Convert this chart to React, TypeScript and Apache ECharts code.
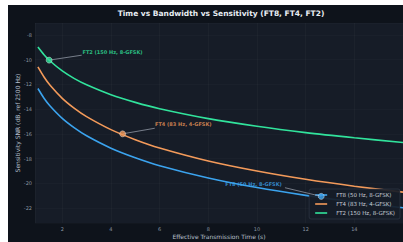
import React, { useEffect, useRef } from "react";
import * as echarts from "echarts";

const times = [1, 1.25, 1.5, 2, 2.5, 3, 4, 5, 6, 8, 10, 12, 14, 16];
const ft8Snr = [-12.34, -13.12, -13.75, -14.75, -15.52, -16.16, -17.16, -17.93, -18.57, -19.56, -20.34, -20.97, -21.51, -21.97];
const ft4Snr = [-10.6, -11.41, -12.08, -13.13, -13.94, -14.61, -15.66, -16.47, -17.14, -18.19, -19.0, -19.67, -20.23, -20.71];
const ft2Snr = [-8.99, -9.61, -10.12, -10.92, -11.54, -12.04, -12.84, -13.46, -13.97, -14.77, -15.39, -15.9, -16.32, -16.7];

const seriesNames = ["FT8 (50 Hz, 8-GFSK)", "FT4 (83 Hz, 4-GFSK)", "FT2 (150 Hz, 8-GFSK)"];
const seriesColors = ["#3ba3ee", "#f39a5a", "#31e39c"];
// operating points [time, snr]
const opTimes = [12.64, 4.48, 1.46];
const opSnr = [-21.05, -16.0, -10.05];
// annotation arrow ends [time, snr]
const arrowEndTimes = [11.15, 5.8, 2.8];
const arrowEndSnr = [-20.35, -15.55, -9.65];
const labelOffsets: [number, number][] = [[-36, -12], [29, -10], [30, -8]];
const labelPositions = ["left", "right", "right"];

const xMin = 0.88;
const xMax = 16;
const yMin = -23.2;
const yMax = -7.05;

const FONT = "DejaVu Sans";

export default function App() {
  const ref = useRef<HTMLDivElement>(null);
  useEffect(() => {
    if (!ref.current) return;
    const chart = echarts.init(ref.current, undefined, { renderer: "svg" });
    const curves = [ft8Snr, ft4Snr, ft2Snr];
    const lineSeries = curves.map((vals, i) => ({
      name: seriesNames[i],
      type: "line",
      data: times.map((t, j) => [t, vals[j]]),
      smooth: 0.3,
      showSymbol: false,
      lineStyle: { color: seriesColors[i], width: 1.6 },
      itemStyle: { color: seriesColors[i] },
      z: 3,
    }));
    const pointSeries = seriesNames.map((n, i) => ({
      name: n + " point",
      type: "scatter",
      data: [[opTimes[i], opSnr[i]]],
      symbolSize: 6,
      itemStyle: { color: seriesColors[i], borderColor: "rgba(255,255,255,0.6)", borderWidth: 0.8 },
      label: {
        show: true,
        position: labelPositions[i],
        distance: 0,
        offset: labelOffsets[i],
        formatter: n,
        color: seriesColors[i],
        fontSize: 5,
        fontWeight: "bold",
        fontFamily: FONT,
      },
      markLine: {
        silent: true,
        symbol: ["none", "none"],
        label: { show: false },
        lineStyle: { color: "#a0a8b4", width: 0.7, type: "solid" },
        data: [[{ coord: [opTimes[i], opSnr[i]] }, { coord: [arrowEndTimes[i], arrowEndSnr[i]] }]],
      },
      z: 5,
    }));

    chart.setOption({
      animation: false,
      backgroundColor: "#0e131b",
      graphic: [
        {
          type: "text",
          x: 213,
          y: 8,
          style: {
            text: "Time vs Bandwidth vs Sensitivity (FT8, FT4, FT2)",
            textAlign: "center",
            textVerticalAlign: "middle",
            fill: "#e8edf3",
            font: `bold 7.5px "${FONT}"`,
          },
        },
      ],
      grid: {
        left: 27,
        right: 0,
        top: 18,
        bottom: 19,
        containLabel: false,
        outerBoundsMode: "none",
        show: true,
        backgroundColor: "#161c27",
        borderWidth: 0,
      },
      legend: {
        data: seriesNames,
        orient: "vertical",
        right: 3,
        bottom: 23,
        icon: "rect",
        itemWidth: 12,
        itemHeight: 1.6,
        itemGap: 3,
        padding: [3, 5, 3, 6],
        backgroundColor: "rgba(22,28,39,0.92)",
        borderColor: "#3a4252",
        borderWidth: 0.5,
        borderRadius: 2,
        textStyle: { color: "#c6ccd6", fontSize: 5.5, fontFamily: FONT, padding: [0, 0, 0, 4] },
      },
      xAxis: {
        type: "value",
        min: xMin,
        max: xMax,
        splitNumber: 8,
        minInterval: 2,
        maxInterval: 2,
        name: "Effective Transmission Time (s)",
        nameLocation: "middle",
        nameGap: 10,
        nameMoveOverlap: false,
        nameTextStyle: { color: "#b8c0cc", fontSize: 6, fontFamily: FONT },
        axisLine: { show: false },
        axisTick: { show: false },
        axisLabel: {
          color: "#8a93a2",
          fontSize: 5,
          fontFamily: FONT,
          margin: 3,
          showMinLabel: false,
          showMaxLabel: false,
          formatter: (v: number) => (Math.abs(v % 2) < 1e-6 ? String(v) : ""),
        },
        splitLine: { show: true, lineStyle: { color: "rgba(255,255,255,0.05)", width: 0.6 } },
      },
      yAxis: {
        type: "value",
        min: yMin,
        max: yMax,
        splitNumber: 8,
        minInterval: 2,
        maxInterval: 2,
        name: "Sensitivity SNR (dB, ref 2500 Hz)",
        nameLocation: "middle",
        nameGap: 15,
        nameMoveOverlap: false,
        nameRotate: 90,
        nameTextStyle: { color: "#b8c0cc", fontSize: 6, fontFamily: FONT },
        axisLine: { show: false },
        axisTick: { show: false },
        axisLabel: {
          color: "#8a93a2",
          fontSize: 5,
          fontFamily: FONT,
          margin: 3,
          showMinLabel: false,
          showMaxLabel: false,
          formatter: (v: number) => (Math.abs(v % 2) < 1e-6 ? String(v) : ""),
        },
        splitLine: { show: true, lineStyle: { color: "rgba(255,255,255,0.04)", width: 0.6 } },
      },
      series: [...lineSeries, ...pointSeries],
    });
    return () => chart.dispose();
  }, []);

  return (
    <div style={{ position: "fixed", left: 0, top: 0, width: 403, height: 242, background: "#ffffff" }}>
      <div ref={ref} style={{ position: "absolute", left: 8, top: 5, width: 395, height: 237 }} />
    </div>
  );
}
